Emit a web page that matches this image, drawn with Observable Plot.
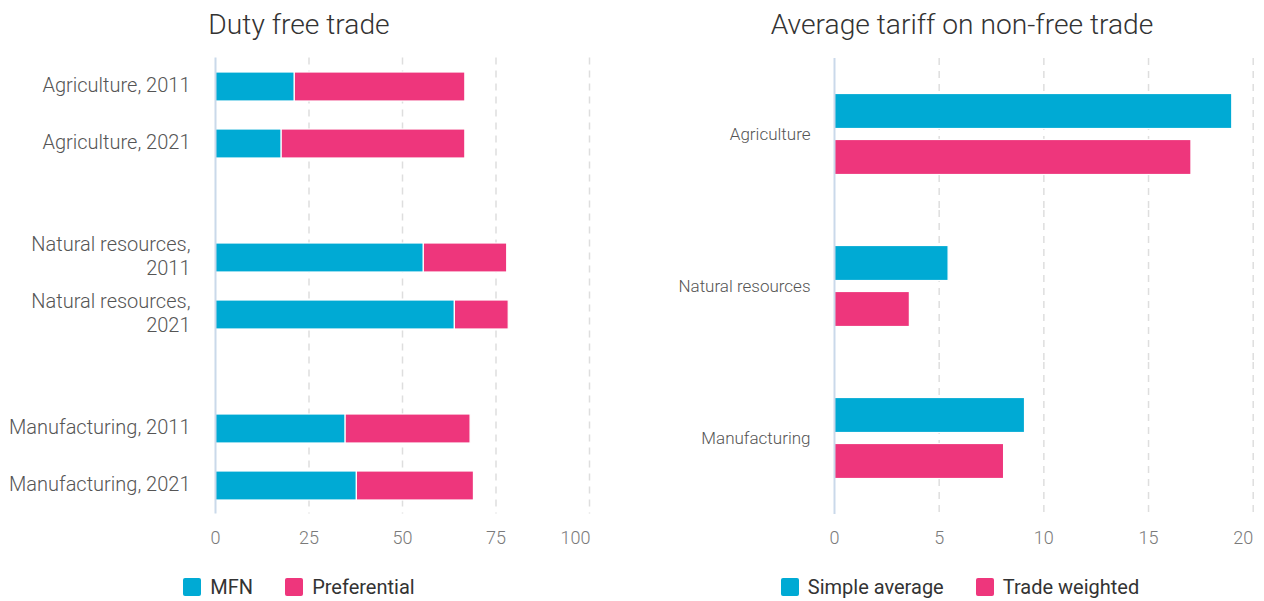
<!DOCTYPE html>
<html>
<head>
<meta charset="utf-8">
<script src="https://cdn.jsdelivr.net/npm/d3@7"></script>
<script src="https://cdn.jsdelivr.net/npm/@observablehq/plot@0.6"></script>
<style>
  html, body { margin: 0; padding: 0; background: #fff; }
  #wrap { position: relative; width: 1264px; height: 601px; overflow: hidden; font-family: Roboto, sans-serif; }
  .panel { position: absolute; top: 0; width: 632px; height: 601px; }
  .title { position: absolute; top: 7px; font-size: 28.2px; font-weight: 300; color: #333; line-height: 36px; white-space: nowrap; text-align: center; }
  .chart { position: absolute; top: 0; left: 0; }
  .legend { position: absolute; top: 575px; display: flex; justify-content: center; align-items: center; font-size: 20px; color: #333; white-space: nowrap; }
  .item { display: flex; align-items: center; margin: 0 16px; }
  .sw { width: 18px; height: 18px; border-radius: 2px; margin-right: 9px; }
</style>
</head>
<body>
<div id="wrap">
  <div class="panel" id="left" style="left:0">
    <div class="title" style="left:0;width:598px">Duty free trade</div>
    <div class="chart" id="leftChart"></div>
    <div class="legend" id="leftLegend" style="left:0;width:598px"></div>
  </div>
  <div class="panel" id="right" style="left:632px">
    <div class="title" style="left:28px;width:604px">Average tariff on non-free trade</div>
    <div class="chart" id="rightChart"></div>
    <div class="legend" id="rightLegend" style="left:26px;width:604px"></div>
  </div>
</div>
<script>
// ---- Left panel data: Duty free trade (% of trade) ----
const leftCategories = ["Agriculture, 2011", "Agriculture, 2021", "Natural resources, 2011", "Natural resources, 2021", "Manufacturing, 2011", "Manufacturing, 2021"];
const leftLabels = ["Agriculture, 2011", "Agriculture, 2021", "Natural resources,\n2011", "Natural resources,\n2021", "Manufacturing, 2011", "Manufacturing, 2021"];
const leftSeries = ["MFN", "Preferential"];
const mfnValues = [21.2, 17.7, 55.7, 64.0, 34.8, 37.8];
const preferentialValues = [45.6, 49.1, 22.3, 14.4, 33.4, 31.3];
const leftTicks = [0, 25, 50, 75, 100];

// ---- Right panel data: Average tariff on non-free trade ----
const rightCategories = ["Agriculture", "Natural resources", "Manufacturing"];
const rightSeries = ["Simple average", "Trade weighted"];
const simpleAverageValues = [19.0, 5.45, 9.1];
const tradeWeightedValues = [17.05, 3.6, 8.1];
const rightTicks = [0, 5, 10, 15, 20];

const colors = ["#00aad4", "#ee367c"];
const gridStyle = {stroke: "#dedede", strokeOpacity: 1, strokeWidth: 1.5, strokeDasharray: "7,6"};
const axisLine = {stroke: "#cad9ea", strokeWidth: 2};
const tickText = {tickSize: 0, tickPadding: 17, fontSize: 18, fill: "#7a7a7a", label: null};

// Left: long data, gap slots between groups
const leftData = [];
leftCategories.forEach((c, i) => {
  leftData.push({category: c, series: leftSeries[0], value: mfnValues[i]});
  leftData.push({category: c, series: leftSeries[1], value: preferentialValues[i]});
});
const leftDomain = [leftCategories[0], leftCategories[1], "gap1", leftCategories[2], leftCategories[3], "gap2", leftCategories[4], leftCategories[5]];
const labelOf = new Map(leftCategories.map((c, i) => [c, leftLabels[i]]));

const leftPlot = Plot.plot({
  width: 632,
  height: 560,
  marginTop: 57.5,
  marginBottom: 46.5,
  marginLeft: 215,
  marginRight: 43,
  style: {fontFamily: "Roboto, sans-serif", fontWeight: 300, background: "transparent", overflow: "visible"},
  x: {domain: [0, 100]},
  y: {domain: leftDomain, paddingInner: 0.5, paddingOuter: 0.25},
  color: {domain: leftSeries, range: colors},
  marks: [
    Plot.gridX(leftTicks.slice(1), gridStyle),
    Plot.barX(leftData, Plot.stackX({y: "category", x: "value", fill: "series", stroke: "white", strokeWidth: 1.2})),
    Plot.ruleX([0], axisLine),
    Plot.axisX({...tickText, ticks: leftTicks.slice(0, -1)}),
    Plot.axisX({...tickText, ticks: leftTicks.slice(-1), textAnchor: "end", dx: 1}),
    Plot.axisY({tickSize: 0, tickPadding: 25, fontSize: 20, fill: "#555", lineHeight: 1.2, label: null, dy: -2.5,
      tickFormat: d => labelOf.get(d) ?? ""})
  ]
});
document.getElementById("leftChart").appendChild(leftPlot);

// Right: grouped bars via facets
const rightData = [];
rightCategories.forEach((c, i) => {
  rightData.push({category: c, series: rightSeries[0], value: simpleAverageValues[i]});
  rightData.push({category: c, series: rightSeries[1], value: tradeWeightedValues[i]});
});

const rightPlot = Plot.plot({
  width: 632,
  height: 560,
  marginTop: 57.5,
  marginBottom: 46.5,
  marginLeft: 202,
  marginRight: 11.3,
  style: {fontFamily: "Roboto, sans-serif", fontWeight: 300, background: "transparent", overflow: "visible"},
  x: {domain: [0, 20]},
  fy: {domain: rightCategories, padding: 0},
  y: {domain: rightSeries, paddingInner: 0.24, paddingOuter: 0.77, axis: null},
  color: {domain: rightSeries, range: colors},
  marks: [
    Plot.gridX(rightTicks.slice(1), gridStyle),
    Plot.barX(rightData, {fy: "category", y: "series", x: "value", fill: "series", stroke: "white", strokeWidth: 1.2}),
    Plot.ruleX([0], axisLine),
    Plot.axisX({...tickText, ticks: rightTicks.slice(0, -1)}),
    Plot.axisX({...tickText, ticks: rightTicks.slice(-1), textAnchor: "end", dx: 0}),
    Plot.axisFy({anchor: "left", tickSize: 0, tickPadding: 24, fontSize: 17, fill: "#555", label: null})
  ]
});
document.getElementById("rightChart").appendChild(rightPlot);

// Legends
function legend(el, series) {
  const root = document.getElementById(el);
  series.forEach((s, i) => {
    const item = document.createElement("div");
    item.className = "item";
    const sw = document.createElement("div");
    sw.className = "sw";
    sw.style.background = colors[i];
    const t = document.createElement("span");
    t.textContent = s;
    item.appendChild(sw);
    item.appendChild(t);
    root.appendChild(item);
  });
}
legend("leftLegend", leftSeries);
legend("rightLegend", rightSeries);
</script>
</body>
</html>
